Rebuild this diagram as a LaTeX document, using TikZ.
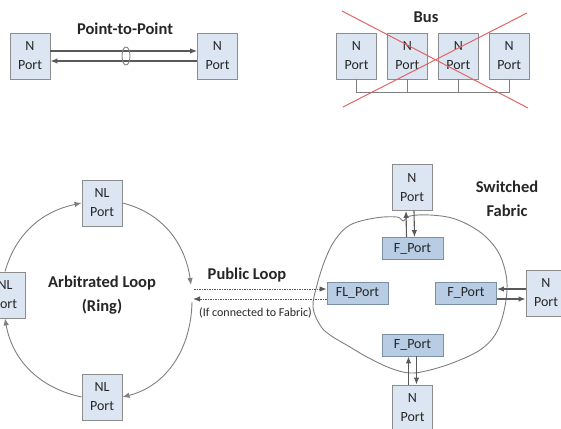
\documentclass[tikz,border=0pt]{standalone}
\usepackage{fontspec}
\setmainfont{Carlito}
\usetikzlibrary{arrows.meta,positioning}
\definecolor{portfill}{HTML}{DCE6F2}
\definecolor{portdraw}{HTML}{8C8C8C}
\definecolor{fportfill}{HTML}{B8CCE4}
\definecolor{fportdraw}{HTML}{7B8FA8}
\definecolor{linkgray}{HTML}{595959}
\definecolor{ringgray}{HTML}{7F7F7F}
\definecolor{crossred}{HTML}{E06666}
\definecolor{textdark}{HTML}{262626}
\tikzset{
  nport/.style={
    draw=portdraw,
    fill=portfill,
    line width=0.9pt,
    minimum width=40pt,
    minimum height=46pt,
    inner sep=0pt,
    align=center,
    font=\fontsize{14}{19}\selectfont,
    text=textdark,
  },
  fport/.style={
    draw=fportdraw,
    fill=fportfill,
    line width=0.9pt,
    minimum width=61pt,
    minimum height=22pt,
    inner sep=0pt,
    font=\fontsize{14}{17}\selectfont,
    text=textdark,
  },
  heading/.style={
    font=\fontsize{16.5}{24}\selectfont\bfseries,
    align=center,
    text=textdark,
  },
  link/.style={
    -{Latex[length=7pt,width=5.5pt]},
    line width=1.1pt,
    draw=linkgray,
  },
  ring/.style={
    -{Latex[length=7pt,width=5.5pt]},
    line width=0.9pt,
    draw=ringgray,
  },
  public/.style={
    -{Latex[length=7pt,width=5.5pt]},
    line width=0.9pt,
    draw=linkgray,
    dash pattern=on 1.5pt off 1pt,
  },
  busline/.style={
    line width=0.9pt,
    draw=ringgray,
  },
  cross/.style={
    line width=1pt,
    draw=crossred,
  },
}

\begin{document}
\begin{tikzpicture}[x=1pt, y=1pt, node distance=10pt]
  \useasboundingbox (0,0) rectangle (561,428);

  % point-to-point
  \node[nport] (p2pa) at (30,372) {N\\Port};
  \node[nport] (p2pb) at (217.5,372) {N\\Port};
  \node[heading] (p2ptitle) at (125,399) {Point-to-Point};
  \draw[link] ([yshift=5pt]p2pa.east) -- ([yshift=5pt]p2pb.west);
  \draw[link] ([yshift=-5pt]p2pb.west) -- ([yshift=-5pt]p2pa.east);
  \draw[busline] (126,372) ellipse[x radius=4, y radius=9];

  % bus (crossed out)
  \node[nport] (bus1) at (356.5,372) {N\\Port};
  \node[nport, right=of bus1] (bus2) {N\\Port};
  \node[nport, right=of bus2] (bus3) {N\\Port};
  \node[nport, right=of bus3] (bus4) {N\\Port};
  \node[heading] (bustitle) at (426,411) {Bus};
  \draw[busline] (bus1.south) -- ++(0,-13) -| (bus4.south);
  \draw[busline] (bus2.south) -- ++(0,-13);
  \draw[busline] (bus3.south) -- ++(0,-13);
  \draw[cross] (342,417) -- (528,320);
  \draw[cross] (343,321) -- (527,415);

  % arbitrated loop
  \node[nport] (nltop) at (102,225) {NL\\Port};
  \node[nport] (nlleft) at (5,133) {NL\\Port};
  \node[nport] (nlbot) at (102,31) {NL\\Port};
  \node[heading] (looptitle) at (102,133) {Arbitrated Loop\\(Ring)};
  \coordinate (arcend) at (191,143);
  \coordinate (arcstart) at (192,126);
  \draw[ring] (nlleft.north) to[out=74, in=192] (nltop.west);
  \draw[ring] (nltop.east) to[out=-14, in=98] (arcend);
  \draw[ring] (arcstart) to[out=-91, in=14] (nlbot.east);
  \draw[ring] (nlbot.west) to[out=168, in=-80] (nlleft.south);

  % switched fabric
  \draw[busline] plot[smooth cycle, tension=0.6] coordinates {
    (325,168) (335,188) (350,203) (375,210) (397,211) (403,207)
    (410,212) (430,213) (455,209) (480,196) (497,178) (505,158)
    (507,138) (503,113) (495,93) (480,78) (455,66) (430,58)
    (410,55) (390,60) (367,71) (350,81) (330,93) (320,103)
    (313,121) (317,143)};
  \node[fport] (flport) at (357.5,135) {FL\_Port};
  \node[fport] (fright) at (466,135) {F\_Port};
  \node[fport] (ftop) at (412.5,179.5) {F\_Port};
  \node[fport] (fbot) at (412.5,83) {F\_Port};
  \node[nport] (ntop) at (412,240.5) {N\\Port};
  \node[nport] (nright) at (546,135) {N\\Port};
  \node[nport] (nbot) at (412.5,20) {N\\Port};
  \node[heading] (fabtitle) at (507,229) {Switched\\Fabric};
  \draw[link] ([xshift=-6pt]ftop.north) -- ([xshift=-6pt]ntop.south);
  \draw[link] ([xshift=2pt]ntop.south) -- ([xshift=2pt]ftop.north);
  \draw[link] ([yshift=4pt]nright.west) -- ([yshift=4pt]fright.east);
  \draw[link] ([yshift=-6pt]fright.east) -- ([yshift=-6pt]nright.west);
  \draw[link] ([xshift=-4pt]nbot.north) -- ([xshift=-4pt]fbot.south);
  \draw[link] ([xshift=4pt]fbot.south) -- ([xshift=4pt]nbot.north);

  % public loop
  \coordinate (ringin) at (194,139);
  \coordinate (ringout) at (193,129);
  \node[heading] (publoop) at (247,153) {Public Loop};
  \node[font=\fontsize{12}{14}\selectfont, text=textdark] (pubnote) at (255.5,115) {(If connected to Fabric)};
  \draw[public] (ringin) -- ([yshift=4pt]flport.west);
  \draw[public] ([yshift=-6pt]flport.west) -- (ringout);
\end{tikzpicture}
\end{document}
